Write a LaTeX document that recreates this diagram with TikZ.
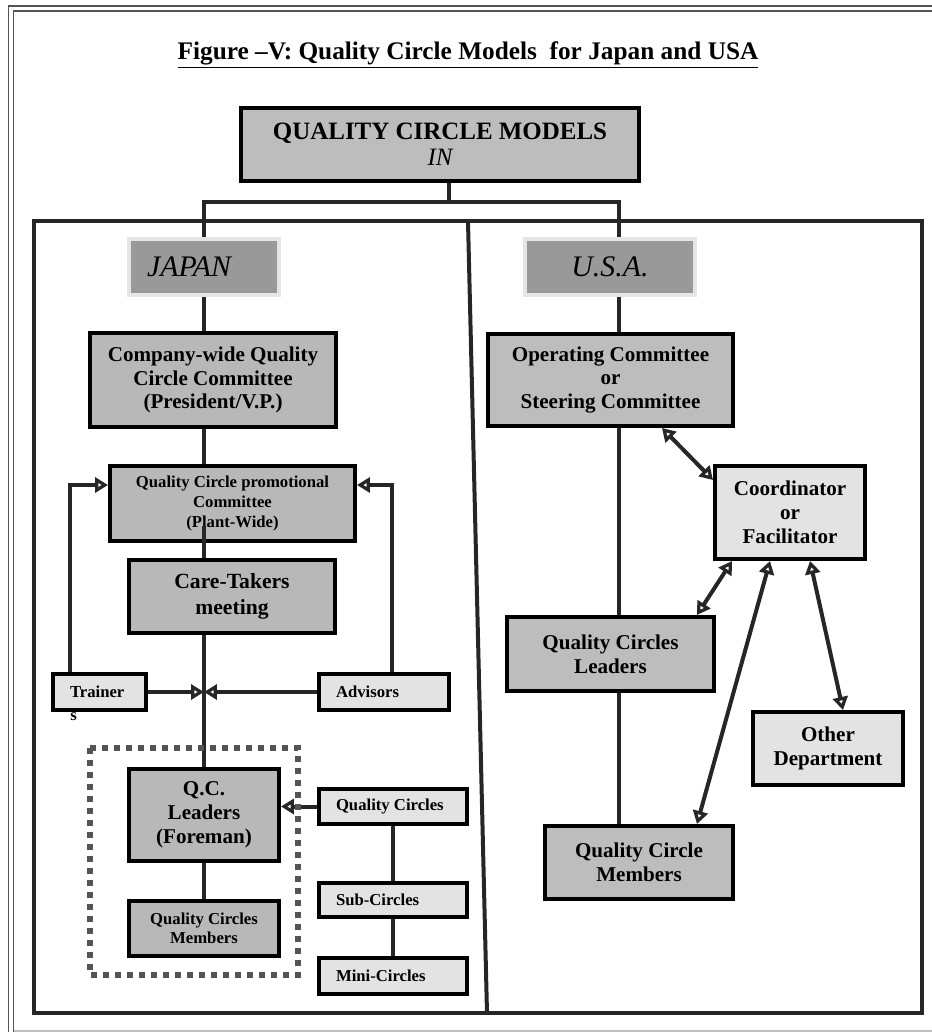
\documentclass[tikz,border=0pt]{standalone}
\usepackage{fontspec}
\setmainfont{Liberation Serif}
\usetikzlibrary{arrows.meta, calc}
\definecolor{linedark}{gray}{0.15}
\definecolor{boxgray}{gray}{0.72}
\definecolor{topgray}{gray}{0.74}
\definecolor{boxlight}{gray}{0.89}
\definecolor{countrygray}{gray}{0.6}
\definecolor{countryedge}{gray}{0.9}
\definecolor{framegray}{gray}{0.33}

\begin{document}
\begin{tikzpicture}[x=0.02cm, y=-0.02cm,
  >={Triangle[open, length=0.26cm, width=0.3cm]},
  darkbox/.style={draw=black, line width=0.08cm, fill=boxgray, align=center,
                  inner sep=0pt, font=\bfseries\fontsize{12}{13.6}\selectfont},
  lightbox/.style={draw=black, line width=0.08cm, fill=boxlight, align=flush left,
                   inner xsep=0.34cm, inner ysep=0pt,
                   font=\bfseries\fontsize{9.5}{11}\selectfont},
  country/.style={draw=countryedge, line width=0.08cm, fill=countrygray,
                  minimum height=1.12cm, inner sep=0pt,
                  font=\itshape\fontsize{17}{20}\selectfont},
  link/.style={draw=linedark, line width=0.08cm}]
  \useasboundingbox (0,0) rectangle (932,1032);

  \draw[line width=0.04cm, draw=framegray] (8.5,1032) -- (8.5,6) -- (932,6);
  \draw[line width=0.04cm, draw=framegray] (13.5,1032) -- (13.5,11) -- (932,11);
  \draw[line width=0.04cm, draw=gray!50] (13.5,1030.5) -- (932,1030.5);
  \draw[line width=0.08cm, draw=linedark] (34,221) rectangle (922,1013);
  \draw[line width=0.08cm, draw=linedark] (468,221) -- (487,1013);

  \node[font=\bfseries\fontsize{14.4}{16}\selectfont] (title) at (468,55)
    {\underline{Figure –V: Quality Circle Models\ \ for Japan and USA}};

  \node[darkbox, fill=topgray, minimum width=7.96cm, minimum height=1.46cm,
        font=\bfseries\fontsize{14.2}{15}\selectfont] (models) at (440,144.5)
    {QUALITY CIRCLE MODELS\\{\mdseries\itshape IN}};

  \node[country, minimum width=3.0cm, text width=2.28cm, align=flush left,
        inner xsep=0.36cm] (japan) at (204,267) {JAPAN};
  \node[country, minimum width=3.4cm] (usa) at (610,267) {U.S.A.};

  % Japan side
  \node[darkbox, minimum width=4.92cm, minimum height=1.88cm] (company) at (213,380)
    {Company-wide Quality\\Circle Committee\\(President/V.P.)};
  \node[darkbox, minimum width=4.9cm, minimum height=1.5cm,
        font=\bfseries\fontsize{9.5}{11.3}\selectfont] (promo) at (232.5,503.5)
    {Quality Circle promotional\\Committee\\(Plant-Wide)};
  \node[darkbox, minimum width=4.12cm, minimum height=1.46cm,
        font=\bfseries\fontsize{12.3}{14.6}\selectfont] (care) at (232,596.5)
    {Care-Takers\\meeting};
  \node[lightbox, text width=1.18cm, minimum height=0.72cm,
        label={[anchor=north west, inner sep=0pt, xshift=0.38cm,
                font=\bfseries\fontsize{9.5}{11}\selectfont]south west:s}]
    (trainer) at (99.5,692) {Trainer};
  \node[lightbox, text width=1.92cm, minimum height=0.72cm] (advisors) at (384,692)
    {Advisors};
  \node[darkbox, minimum width=3.0cm, minimum height=1.84cm] (qcl) at (204,815)
    {Q.C.\\Leaders\\(Foreman)};
  \node[darkbox, minimum width=3.0cm, minimum height=1.1cm,
        font=\bfseries\fontsize{9.5}{10.8}\selectfont] (qcm) at (204,928.5)
    {Quality Circles\\Members};
  \node[lightbox, text width=2.28cm, minimum height=0.7cm] (qcircles) at (393,806.5)
    {Quality Circles};
  \node[lightbox, text width=2.28cm, minimum height=0.68cm] (subc) at (393,900)
    {Sub-Circles};
  \node[lightbox, text width=2.28cm, minimum height=0.72cm] (minic) at (393,976)
    {Mini-Circles};

  % USA side
  \node[darkbox, fill=topgray, minimum width=4.9cm, minimum height=1.84cm] (opc)
    at (610.5,380) {Operating Committee\\or\\Steering Committee};
  \node[darkbox, fill=boxlight, minimum width=3.0cm, minimum height=1.86cm] (coord)
    at (790,512.5) {Coordinator\\or\\Facilitator};
  \node[darkbox, fill=topgray, minimum width=4.14cm, minimum height=1.48cm] (qclu)
    at (610.5,654) {Quality Circles\\Leaders};
  \node[darkbox, fill=boxlight, minimum width=3.0cm, minimum height=1.46cm] (other)
    at (828,748.5) {Other\\Department};
  \node[darkbox, fill=topgray, minimum width=3.76cm, minimum height=1.46cm] (members)
    at (639,862.5) {Quality Circle\\Members};

  \coordinate (split) at (449,202);
  \coordinate (uspine) at (619,0);

  \draw[link] (models.south -| split) -- (split);
  \draw[link] (japan.north) |- (split) -| (usa.north -| uspine);

  \draw[link] (japan.south) -- (company.north -| japan.south);
  \draw[link] (company.south -| japan.south) -- (promo.north -| japan.south);
  \draw[link] ($(promo.south -| japan.south)+(0,-17)$) -- (care.north -| japan.south);
  \draw[link] (care.south -| japan.south) -- (qcl.north);
  \draw[link] (qcl.south) -- (qcm.north);
  \draw[link, ->] (trainer.east) -- (trainer.east -| qcl.north);
  \draw[link, ->] (advisors.west) -- (advisors.west -| qcl.north);
  \draw[link, ->] ([xshift=0.38cm]trainer.north west) |- ([yshift=0.37cm]promo.west);
  \draw[link, ->] ([xshift=0.16cm]advisors.north) |- ([yshift=0.37cm]promo.east);
  \draw[link] (qcircles.south) -- (subc.north);
  \draw[link] (subc.south) -- (minic.north);
  \draw[link, ->] (qcircles.west) -- (qcircles.west -| qcl.east);
  \draw[dash pattern=on 0.12cm off 0.12cm, line width=0.12cm, draw=framegray]
    (90,748) rectangle (298,975);

  \draw[link] (usa.south -| uspine) -- (opc.north -| uspine);
  \draw[link] (opc.south -| uspine) -- (qclu.north -| uspine);
  \draw[link] (qclu.south -| uspine) -- (members.north -| uspine);
  \draw[link, <->] ($(opc.south east)+(-73,0)$) -- ($(coord.north west)+(0,16)$);
  \draw[link, <->] ($(coord.south west)+(19,0)$) -- ($(qclu.north east)+(-19,0)$);
  \draw[link, <->] ($(coord.south west)+(57,0)$) -- ($(members.north east)+(-38,0)$);
  \draw[link, <->] ($(coord.south west)+(97,0)$) -- ($(other.north west)+(92,0)$);
\end{tikzpicture}
\end{document}
